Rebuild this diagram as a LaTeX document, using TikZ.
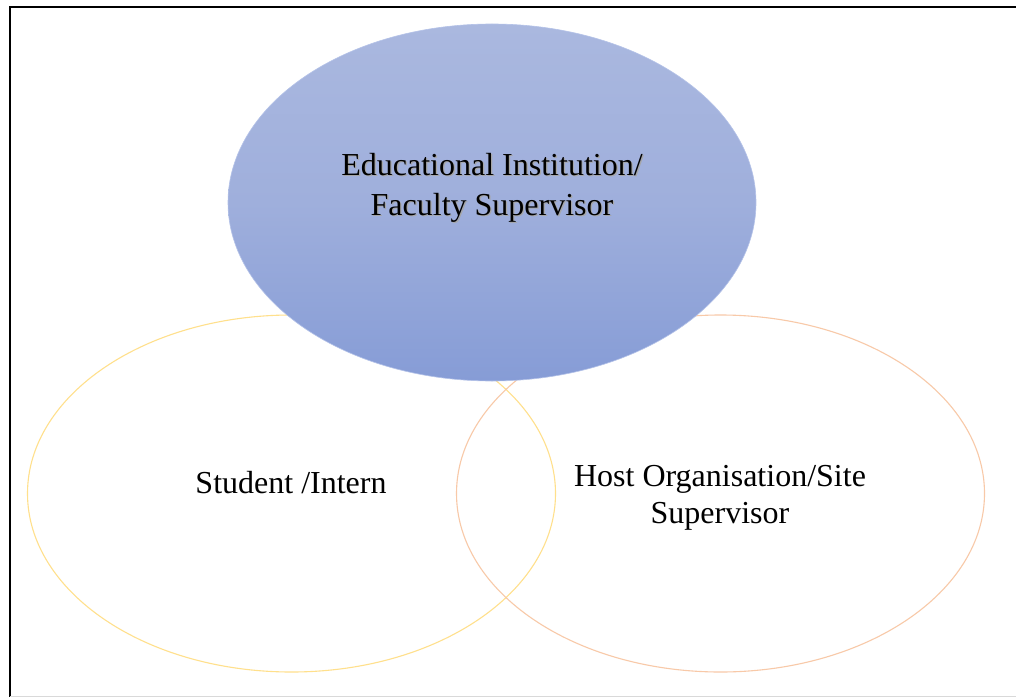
\documentclass[tikz,border=0pt]{standalone}
\usepackage{fontspec}
\setmainfont{Liberation Serif}
\usetikzlibrary{shapes.geometric}
\definecolor{blueTop}{RGB}{170,184,223}
\definecolor{blueMid}{RGB}{159,175,220}
\definecolor{blueBot}{RGB}{134,156,214}
\definecolor{blueLine}{RGB}{180,194,232}
\definecolor{yellowLine}{RGB}{255,224,140}
\definecolor{orangeLine}{RGB}{248,201,168}
\tikzset{
  venn/.style={ellipse, minimum width=528pt, minimum height=357pt, inner sep=0pt},
  lbl/.style={font=\fontsize{32}{40}\selectfont, align=center, inner sep=0pt, text=black},
}
\begin{document}
\begin{tikzpicture}[x=1pt,y=-1pt]
\useasboundingbox (0,0) rectangle (1016,698);
\fill[white] (0,0) rectangle (1016,698);
% frame
\draw[black, line width=2.4pt] (1017,7) -- (10,7) -- (10,697);
\draw[black!15, line width=1pt] (10,696.5) -- (1017,696.5);
% lower circles
\node[venn, draw=yellowLine, line width=1.1pt] (student) at (291.5,493.5) {};
\node[venn, draw=orangeLine, line width=1.1pt] (host) at (720.5,493.5) {};
% top ellipse
\node[venn, draw=blueLine, line width=0.6pt, top color=blueTop, bottom color=blueBot, middle color=blueMid] (edu) at (492,202.5) {};
% labels
\node[lbl, text=black!35, anchor=base] (edushadow) at (493.2,216.2) {Educational Institution/\\Faculty Supervisor};
\node[lbl, anchor=base] (edutext) at (492,215) {Educational Institution/\\Faculty Supervisor};
\node[lbl, anchor=base] (studenttext) at (291,493) {Student /Intern};
\node[lbl, anchor=base, font=\fontsize{32}{37}\selectfont] (hosttext) at (720,523.5) {Host Organisation/Site\\Supervisor};
\end{tikzpicture}
\end{document}
